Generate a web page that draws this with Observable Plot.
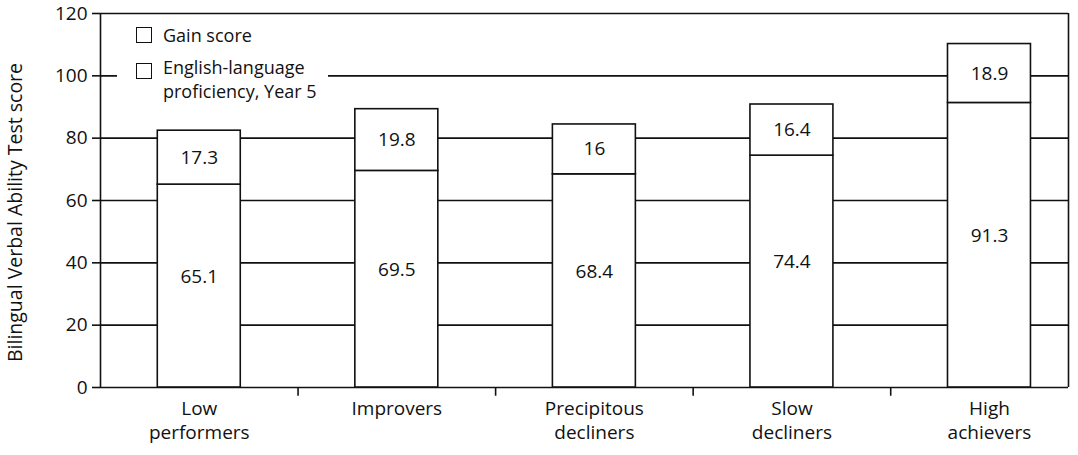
<!DOCTYPE html>
<html>
<head>
<meta charset="utf-8">
<script src="https://cdn.jsdelivr.net/npm/d3@7"></script>
<script src="https://cdn.jsdelivr.net/npm/@observablehq/plot@0.6"></script>
<style>
  html, body { margin: 0; padding: 0; background: #fff; }
  #wrap { position: relative; width: 1078px; height: 455px; font-family: "Open Sans", Lato, sans-serif; color: #111; }
  #legend { position: absolute; left: 117px; top: 18px; width: 211px; height: 84px; background: #fff; font-size: 18px; }
  .sw { position: absolute; width: 14px; height: 14px; border: 1.6px solid #111; background: #fff; }
  .lt { position: absolute; line-height: 24px; white-space: nowrap; }
</style>
</head>
<body>
<div id="wrap"></div>
<script>
const categories = ["Low\nperformers", "Improvers", "Precipitous\ndecliners", "Slow\ndecliners", "High\nachievers"];
const proficiency = [65.1, 69.5, 68.4, 74.4, 91.3];
const gain = [17.3, 19.8, 16, 16.4, 18.9];
const yTicks = [0, 20, 40, 60, 80, 100, 120];
const yLabel = "Bilingual Verbal Ability Test score";
const legendLabels = ["Gain score", "English-language\nproficiency, Year 5"];

const half = 0.21;
const xEnd = categories.length - 0.1;
const segs = [];
categories.forEach((c, i) => {
  segs.push({i, cat: c, series: "prof", y1: 0, y2: proficiency[i], v: proficiency[i]});
  segs.push({i, cat: c, series: "gain", y1: proficiency[i], y2: proficiency[i] + gain[i], v: gain[i]});
});

const ink = "#111";
const chart = Plot.plot({
  width: 1078,
  height: 455,
  marginLeft: 100,
  marginRight: 10,
  marginTop: 13,
  marginBottom: 68,
  style: {fontFamily: "'Open Sans', Lato, sans-serif", fontSize: "19px", color: ink, background: "#fff"},
  x: {domain: [0, xEnd], axis: null},
  y: {domain: [0, 120]},
  marks: [
    Plot.ruleY(yTicks, {stroke: ink, strokeWidth: 1.6}),
    Plot.ruleX([0, xEnd], {y1: 0, y2: 120, stroke: ink, strokeWidth: 1.6}),
    Plot.axisY({ticks: yTicks, tickSize: 8, tickPadding: 5, strokeWidth: 1.6, fontSize: 19, label: null}),
    Plot.text([yLabel], {frameAnchor: "left", textAnchor: "middle", rotate: -90, dx: -85, dy: 12, fontSize: 19.5, fill: ink}),
    Plot.ruleX(d3.range(1, categories.length), {y1: 0, y2: -2.8, stroke: ink, strokeWidth: 1.6}),
    Plot.rect(segs, {x1: d => d.i + 0.5 - half, x2: d => d.i + 0.5 + half, y1: "y1", y2: "y2",
      fill: "#fff", stroke: ink, strokeWidth: 1.6}),
    Plot.text(segs, {x: d => d.i + 0.5, y: d => d.series === "prof" ? d.y2 / 2 + 3 : (d.y1 + d.y2) / 2,
      text: d => String(d.v), fontSize: 19, fill: ink}),
    Plot.text(categories, {x: (d, i) => i + 0.5, y: 0, text: d => d, dy: 11, lineAnchor: "top",
      lineHeight: 1.25, fontSize: 19, fill: ink})
  ]
});

const wrap = document.getElementById("wrap");
wrap.appendChild(chart);

const leg = document.createElement("div");
leg.id = "legend";
const rows = [{sw: 9, txt: 5}, {sw: 45, txt: 37}];
legendLabels.forEach((lab, k) => {
  const s = document.createElement("div");
  s.className = "sw";
  s.style.left = "19px"; s.style.top = rows[k].sw + "px";
  leg.appendChild(s);
  lab.split("\n").forEach((line, j) => {
    const t = document.createElement("div");
    t.className = "lt";
    t.style.left = "46px"; t.style.top = (rows[k].txt + j * 24) + "px";
    t.textContent = line;
    leg.appendChild(t);
  });
});
wrap.appendChild(leg);
</script>
</body>
</html>
